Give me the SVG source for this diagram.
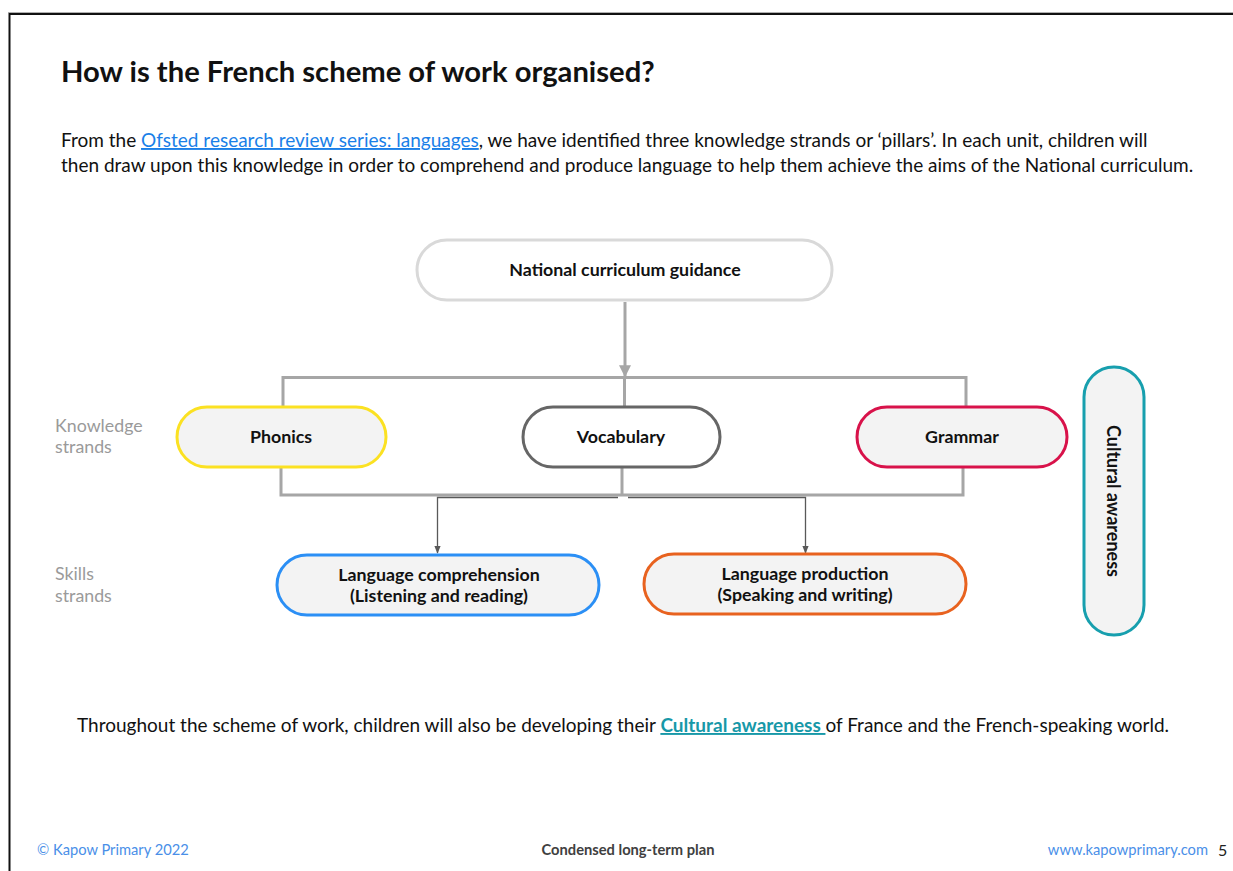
<svg xmlns="http://www.w3.org/2000/svg" width="1233" height="871" viewBox="0 0 1233 871">
  <style>
    text { font-family: Lato, "Liberation Sans", sans-serif; }
    .title { font-size: 29.2px; font-weight: bold; fill: #111; }
    .body { font-size: 19px; fill: #111; }
    .link { fill: #1a7fe8; text-decoration: underline; }
    .node-label { font-size: 17.8px; font-weight: bold; fill: #111; text-anchor: middle; }
    .side { font-size: 17.8px; fill: #9a9a9a; }
    .foot { font-size: 14.7px; }
    .pill { stroke-width: 3; }
    .conn { fill: none; stroke: #a6a6a6; stroke-width: 3; }
    .feed { fill: none; stroke: #595959; stroke-width: 1.3; }
  </style>
  <defs>
    <marker id="arrowGrey" viewBox="0 0 10 10" refX="9" refY="5" markerWidth="4" markerHeight="4" orient="auto">
      <path d="M0,0 L10,5 L0,10 Z" fill="#a6a6a6"/>
    </marker>
    <marker id="arrowDark" viewBox="0 0 10 10" refX="9" refY="5" markerWidth="6" markerHeight="6" orient="auto">
      <path d="M0,1 L10,5 L0,9 Z" fill="#595959"/>
    </marker>
  </defs>

  <!-- page background and frame -->
  <rect x="0" y="0" width="1233" height="871" fill="#ffffff"/>
  <line x1="8" y1="12.5" x2="1233" y2="12.5" stroke="#b0b0b0" stroke-width="1"/>
  <polyline points="9.5,871 9.5,14 1233,14" fill="none" stroke="#111" stroke-width="2"/>

  <!-- heading and intro -->
  <text class="title" x="61" y="82">How is the French scheme of work organised?</text>
  <text class="body" x="61" y="147">From the <tspan class="link">Ofsted research review series: languages</tspan>, we have identified three knowledge strands or ‘pillars’. In each unit, children will</text>
  <text class="body" x="61" y="172">then draw upon this knowledge in order to comprehend and produce language to help them achieve the aims of the National curriculum.</text>

  <!-- row labels -->
  <text class="side" x="55" y="432">Knowledge</text>
  <text class="side" x="55" y="453">strands</text>
  <text class="side" x="55" y="580">Skills</text>
  <text class="side" x="55" y="602">strands</text>

  <!-- connectors -->
  <g id="connectors">
    <line class="conn" x1="625" y1="302" x2="625" y2="376" marker-end="url(#arrowGrey)"/>
    <polyline class="conn" points="283,407 283,377.5 966,377.5 966,407"/>
    <line class="conn" x1="624.5" y1="377" x2="624.5" y2="407"/>
    <polyline class="conn" points="281,467 281,495 963,495 963,467"/>
    <line class="conn" x1="622" y1="467" x2="622" y2="495"/>
    <polyline class="feed" points="618,497.5 437.5,497.5 437.5,553" marker-end="url(#arrowDark)"/>
    <polyline class="feed" points="628,497.5 805.5,497.5 805.5,553" marker-end="url(#arrowDark)"/>
  </g>

  <!-- nodes -->
  <g id="node-national">
    <rect class="pill" x="417" y="240" width="415" height="60" rx="30" fill="#ffffff" stroke="#d9d9d9"/>
    <text class="node-label" x="625" y="276">National curriculum guidance</text>
  </g>
  <g id="node-phonics">
    <rect class="pill" x="177" y="407" width="209" height="60" rx="30" fill="#f3f3f3" stroke="#fbe122"/>
    <text class="node-label" x="281" y="443">Phonics</text>
  </g>
  <g id="node-vocabulary">
    <rect class="pill" x="523" y="407" width="197" height="60" rx="30" fill="#ffffff" stroke="#666666"/>
    <text class="node-label" x="621" y="443">Vocabulary</text>
  </g>
  <g id="node-grammar">
    <rect class="pill" x="857" y="407" width="210" height="60" rx="30" fill="#f3f3f3" stroke="#d8124a"/>
    <text class="node-label" x="962" y="443">Grammar</text>
  </g>
  <g id="node-comprehension">
    <rect class="pill" x="277" y="555" width="322" height="60" rx="30" fill="#f3f3f3" stroke="#2b8ff5"/>
    <text class="node-label" x="439" y="581">Language comprehension</text>
    <text class="node-label" x="439" y="602">(Listening and reading)</text>
  </g>
  <g id="node-production">
    <rect class="pill" x="644" y="554" width="322" height="60" rx="30" fill="#f3f3f3" stroke="#e8621f"/>
    <text class="node-label" x="805" y="580">Language production</text>
    <text class="node-label" x="805" y="601">(Speaking and writing)</text>
  </g>
  <g id="node-cultural">
    <rect class="pill" x="1084" y="367" width="60" height="268" rx="30" fill="#f3f3f3" stroke="#179fae"/>
    <text x="1114" y="501" transform="rotate(90 1114 501)" text-anchor="middle" dominant-baseline="central" font-size="18" font-weight="bold" fill="#111">Cultural awareness</text>
  </g>

  <!-- closing sentence -->
  <text class="body" x="77" y="732">Throughout the scheme of work, children will also be developing their <tspan fill="#1798a8" font-weight="bold" text-decoration="underline">Cultural awareness </tspan>of France and the French-speaking world.</text>

  <!-- footer -->
  <text class="foot" x="37" y="855" fill="#4a8fe8">© Kapow Primary 2022</text>
  <text class="foot" x="628" y="855" fill="#404040" font-weight="bold" text-anchor="middle">Condensed long-term plan</text>
  <text class="foot" x="1208" y="855" fill="#4a8fe8" text-anchor="end">www.kapowprimary.com</text>
  <text x="1218" y="856" font-size="16" fill="#222">5</text>
</svg>
